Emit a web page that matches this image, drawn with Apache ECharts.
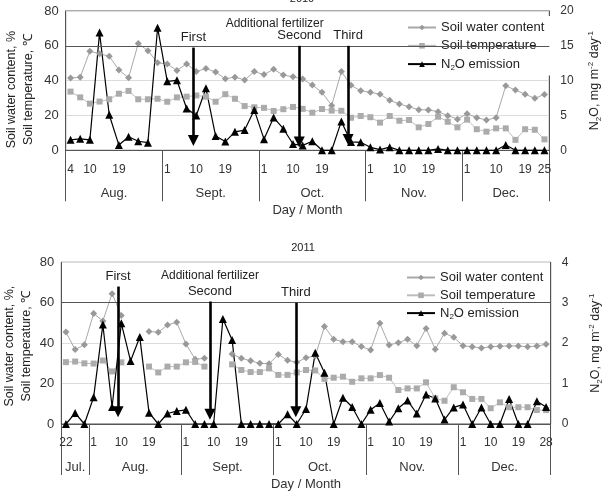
<!DOCTYPE html>
<html>
<head>
<meta charset="utf-8">
<script src="https://cdn.jsdelivr.net/npm/echarts@6/dist/echarts.min.js"></script>
<style>
html, body {margin: 0; padding: 0; background: #fff;}
#chart {width: 605px; height: 492px;}
</style>
</head>
<body>
<div id="chart"></div>
<script>
// ---- 2010 ----
// day labels of each sampling point ('' = no label shown)
var days2010 = ['4','','10','','','19','','','','',
    '1','','','10','','','19','','','',
    '1','','','10','','','19','','','','',
    '1','','','10','','','19','','','',
    '1','','','10','','','19','','25'];
var months2010 = ['Aug.', 'Sept.', 'Oct.', 'Nov.', 'Dec.'];
// month edges, counted in sampling points
var monthEdges2010 = [0, 10, 20, 31, 41, 50];
var water2010 = [41.5, 42, 56.9, 55.5, 54, 46.1, 41.6, 61.3, 57.2, 50.3,
    49.5, 45.9, 49.6, 45.2, 47, 44.9, 41.1, 42, 40.4, 45.2,
    43.5, 46.5, 43.2, 42.2, 40.9, 37.5, 33.3, 25.8, 45.2, 37.3,
    34.2, 33.3, 32.2, 28.7, 26.6, 25, 23.3, 23.2, 22.2, 19.9,
    17.9, 21, 18.7, 17.4, 18.7, 37, 34.6, 32.2, 29.9, 32.1];
var temp2010 = [33.7, 30.4, 26.8, 28, 29.3, 32.5, 34.1, 29.3, 29.3, 29.6,
    27.9, 30.4, 30.8, 31.5, 30.8, 27.9, 32.2, 29.6, 25.4, 24.7,
    24.4, 22.6, 23.6, 24.9, 23.8, 21.6, 23.7, 22.8, 22.7, 18.7,
    19.7, 19, 15.9, 19.7, 17, 17.4, 13.2, 15.1, 19.3, 16.4,
    13.2, 17.6, 12.1, 10.7, 12.6, 12.6, 6, 12.1, 11.8, 6.3];
var n2o2010 = [1.5, 1.65, 1.5, 16.9, 5.1, 0.75, 1.95, 1.3, 1.1, 17.6,
    9.9, 10.05, 6.0, 5.0, 8.9, 2.05, 1.25, 2.65, 2.9, 5.8,
    1.6, 4.7, 3.1, 0.9, 0.7, 1.3, 0, 0, 4.15, 1.2,
    1.15, 0.43, 0.1, 0.45, 0, 0, 0, 0, 0.2, 0,
    0, 0, 0, 0, 0, 0.75, 0, 0, 0, 0];
// fertilizer arrows: position (in sampling points), top and end (left axis units)
var fertX2010 = [13.2, 24.15, 29.2];
var fertTop2010 = [59, 60, 60];
var fertEnd2010 = [5.6, 4.8, 6.2];

// ---- 2011 ----
var days2011 = ['22','','',
    '1','','','10','','','19','','','',
    '1','','','10','','','19','','','',
    '1','','','10','','','19','','','',
    '1','','','10','','','19','','','',
    '1','','','10','','','19','','','28'];
var months2011 = ['Jul.', 'Aug.', 'Sept.', 'Oct.', 'Nov.', 'Dec.'];
var monthEdges2011 = [0, 3, 13, 23, 33, 43, 53];
var water2011 = [45.5, 36.8, 39.2, 54.7, 51, 64.5, 53.7, null, null, 45.8,
    45.4, 49, 50.3, 39.6, 32, 32.5, null, null, 34.6, 32.5,
    31.3, 30, 29.8, 34.4, 31.5, 30.5, 32.8, 33.6, 48.2, 41.9,
    40.7, 40.7, 38.3, 36.6, 49.8, 39.1, 40.2, 41.9, 38.7, 47.3,
    37, 44.9, 42.9, 38.7, 38.2, 37.6, 38.2, 38.5, 38.6, 38.6,
    38.2, 38.6, 39.4];
var temp2011 = [30.6, 30.9, 30, 29.9, 31.4, 26, 30.5, null, null, 28.4,
    25.5, 28.4, 28.4, 30.5, 30.7, 28.4, null, null, 29.5, 26.7,
    25.7, 25.7, 27.5, 24.3, 24.3, 25.5, 26.7, 26.5, 22.3, 22.9,
    23.4, 20.9, 22.6, 22.6, 24.2, 22.9, 16.8, 17.6, 17.6, 20.6,
    12.7, 11.5, 18.2, 15.7, 12.4, 12.4, 7.8, 10.7, 8.3, 8.3,
    8.3, 6.9, 6.9];
var n2o2011 = [0, 0.27, 0, 0.66, 2.46, 0.42, 2.49, 1.56, 2.15, 0.28,
    0, 0.26, 0.32, 0.35, 0, 0, 0, 2.6, 2.08, 0,
    0, 0, 0, 0, 0.24, 0, 0.37, 1.76, 1.27, 0,
    0.65, 0.42, 0, 0.35, 0.52, 0.06, 0.39, 0.58, 0.26, 0.73,
    0.63, 0.11, 0.41, 0.48, 0, 0.41, 0, 0, 0.62, 0,
    0, 0.56, 0.42];
var fertX2011 = [6.15, 16.1, 25.4];
var fertTop2011 = [68, 60.6, 60];
var fertEnd2011 = [6, 4.8, 6];

var fertNames = ['First', 'Second', 'Third'];
var seriesNames = ['Soil water content', 'Soil temperature', 'N2O emission'];

var FONT = 'Liberation Sans, Arial, sans-serif';
var FRAME = '#555';
var subSup = {
    sub: {fontSize: 8, verticalAlign: 'bottom', fontFamily: FONT},
    sup: {fontSize: 8, verticalAlign: 'top', fontFamily: FONT}
};

function midpoints(edges) {
    var m = [];
    for (var i = 0; i < edges.length - 1; i++) {
        m.push((edges[i] + edges[i + 1]) / 2);
    }
    return m;
}

// x axes of one panel: category axis for the points, value axis for months / separators
function xAxesFor(g, days, months, edges) {
    var mids = midpoints(edges);
    return [{
        type: 'category', gridIndex: g, data: days, boundaryGap: true,
        axisLine: {lineStyle: {color: FRAME, width: 1}},
        axisTick: {show: false},
        axisLabel: {interval: 0, margin: 13, fontSize: 12, color: '#333', fontFamily: FONT},
        splitLine: {show: false}
    }, {
        type: 'value', gridIndex: g, position: 'bottom', min: 0, max: edges[edges.length - 1],
        axisLine: {show: false},
        splitLine: {show: false},
        axisTick: {show: true, customValues: edges, length: 51, lineStyle: {color: FRAME, width: 1}},
        axisLabel: {
            customValues: mids, margin: 37, fontSize: 13, color: '#333', fontFamily: FONT,
            formatter: function (v) {
                var i = mids.indexOf(v);
                return i >= 0 ? months[i] : '';
            }
        },
        name: 'Day / Month', nameLocation: 'middle', nameGap: 54, nameMoveOverlap: false,
        nameTextStyle: {fontSize: 13, color: '#333', fontFamily: FONT}
    }];
}

function yAxesFor(g, rightMax, rightInterval, leftName, leftPad, leftGap) {
    return [{
        type: 'value', gridIndex: g, position: 'left', min: 0, max: 80, interval: 20,
        axisLine: {show: true, lineStyle: {color: FRAME}},
        axisTick: {show: false},
        axisLabel: {margin: 7, fontSize: 13, color: '#333', fontFamily: FONT},
        splitLine: {show: true, lineStyle: {color: '#dcdcdc', width: 1}},
        name: leftName, nameLocation: 'middle', nameGap: leftGap, nameMoveOverlap: false,
        nameTextStyle: {fontSize: 12.5, color: '#222', lineHeight: 17, padding: leftPad, fontFamily: FONT}
    }, {
        type: 'value', gridIndex: g, position: 'right', min: 0, max: rightMax, interval: rightInterval,
        axisLine: {show: true, lineStyle: {color: FRAME}},
        axisTick: {show: false},
        axisLabel: {margin: 11, fontSize: 12, color: '#333', fontFamily: FONT},
        splitLine: {show: false},
        name: 'N{sub|2}O, mg m{sup|-2} day{sup|-1}', nameLocation: 'middle', nameGap: 37, nameMoveOverlap: false,
        nameTextStyle: {fontSize: 12.5, color: '#222', lineHeight: 16, fontFamily: FONT, rich: subSup}
    }];
}

function seriesFor(xCat, xVal, yLeft, yRight, water, temp, n2o, fertX, fertTop, fertEnd) {
    var arrows = [];
    for (var i = 0; i < fertX.length; i++) {
        arrows.push([{name: fertNames[i], coord: [fertX[i], fertTop[i]]}, {coord: [fertX[i], fertEnd[i]]}]);
    }
    return [{
        name: seriesNames[0], type: 'line', xAxisIndex: xCat, yAxisIndex: yLeft, data: water,
        symbol: 'diamond', symbolSize: 7,
        itemStyle: {color: '#999'}, lineStyle: {color: '#a8a8a8', width: 1},
        // dark reference line at 60
        markLine: {
            silent: true, symbol: 'none', label: {show: false},
            lineStyle: {color: FRAME, width: 1, type: 'solid'},
            data: [{yAxis: 60}]
        }
    }, {
        name: seriesNames[1], type: 'line', xAxisIndex: xCat, yAxisIndex: yLeft, data: temp,
        symbol: 'rect', symbolSize: 6,
        itemStyle: {color: '#ababab'}, lineStyle: {color: '#bdbdbd', width: 1}
    }, {
        name: seriesNames[2], type: 'line', xAxisIndex: xCat, yAxisIndex: yRight, data: n2o,
        symbol: 'triangle', symbolSize: 8,
        itemStyle: {color: '#000'}, lineStyle: {color: '#000', width: 1.2}
    }, {
        // fertilizer arrows
        type: 'line', xAxisIndex: xVal, yAxisIndex: yLeft, data: [], z: 5,
        markLine: {
            silent: true, symbol: ['none', 'triangle'], symbolSize: 11,
            lineStyle: {color: '#000', width: 2.6, type: 'solid'},
            label: {
                show: true, position: 'start', formatter: '{b}', distance: 3,
                fontSize: 13, color: '#222', fontFamily: FONT,
                backgroundColor: '#fff', padding: [2, 2, 1, 2]
            },
            data: arrows
        }
    }];
}

function legendFor(top, left, gap, padRight) {
    return {
        data: seriesNames, orient: 'vertical', top: top, left: left,
        padding: [4, padRight, 4, 10], itemWidth: 28, itemHeight: 7, itemGap: gap,
        backgroundColor: '#fff', selectedMode: false,
        textStyle: {fontSize: 13, color: '#222', fontFamily: FONT, lineHeight: 15, rich: subSup},
        formatter: function (name) {
            return name === 'N2O emission' ? 'N{sub|2}O emission' : name;
        }
    };
}

function textAt(text, x, top, size) {
    return {
        text: text, left: x, top: top, textAlign: 'center', padding: 0,
        textStyle: {fontSize: size, fontWeight: 'normal', color: '#222', fontFamily: FONT}
    };
}

var myChart = echarts.init(document.getElementById('chart'));
var option = {
    animation: false,
    title: [
        textAt('2010', 302, -7, 11),
        textAt('2011', 303, 242, 11),
        textAt('Additional fertilizer', 274.7, 17.5, 12),
        textAt('Additional fertilizer', 210, 269.5, 12)
    ],
    legend: [legendFor(16, 397, 3.3, 8), legendFor(266, 396, 2.8, 4)],
    grid: [
        {left: 65.7, right: 55.7, top: 11, height: 139.3, show: true, borderColor: FRAME, borderWidth: 1, outerBoundsMode: 'none'},
        {left: 61.3, right: 54.3, top: 262.3, height: 161.7, show: true, borderColor: FRAME, borderWidth: 1, outerBoundsMode: 'none'}
    ],
    xAxis: xAxesFor(0, days2010, months2010, monthEdges2010)
        .concat(xAxesFor(1, days2011, months2011, monthEdges2011)),
    yAxis: yAxesFor(0, 20, 5, 'Soil water content, %\nSoil temperature, \u2103', [0, 18, 0, 0], 29)
        .concat(yAxesFor(1, 4, 1, 'Soil water content, %,\nSoil temperature, \u2103', [0, 6, 0, 0], 26)),
    series: seriesFor(0, 1, 0, 1, water2010, temp2010, n2o2010, fertX2010, fertTop2010, fertEnd2010)
        .concat(seriesFor(2, 3, 2, 3, water2011, temp2011, n2o2011, fertX2011, fertTop2011, fertEnd2011))
};
myChart.setOption(option, true);
</script>
</body>
</html>
